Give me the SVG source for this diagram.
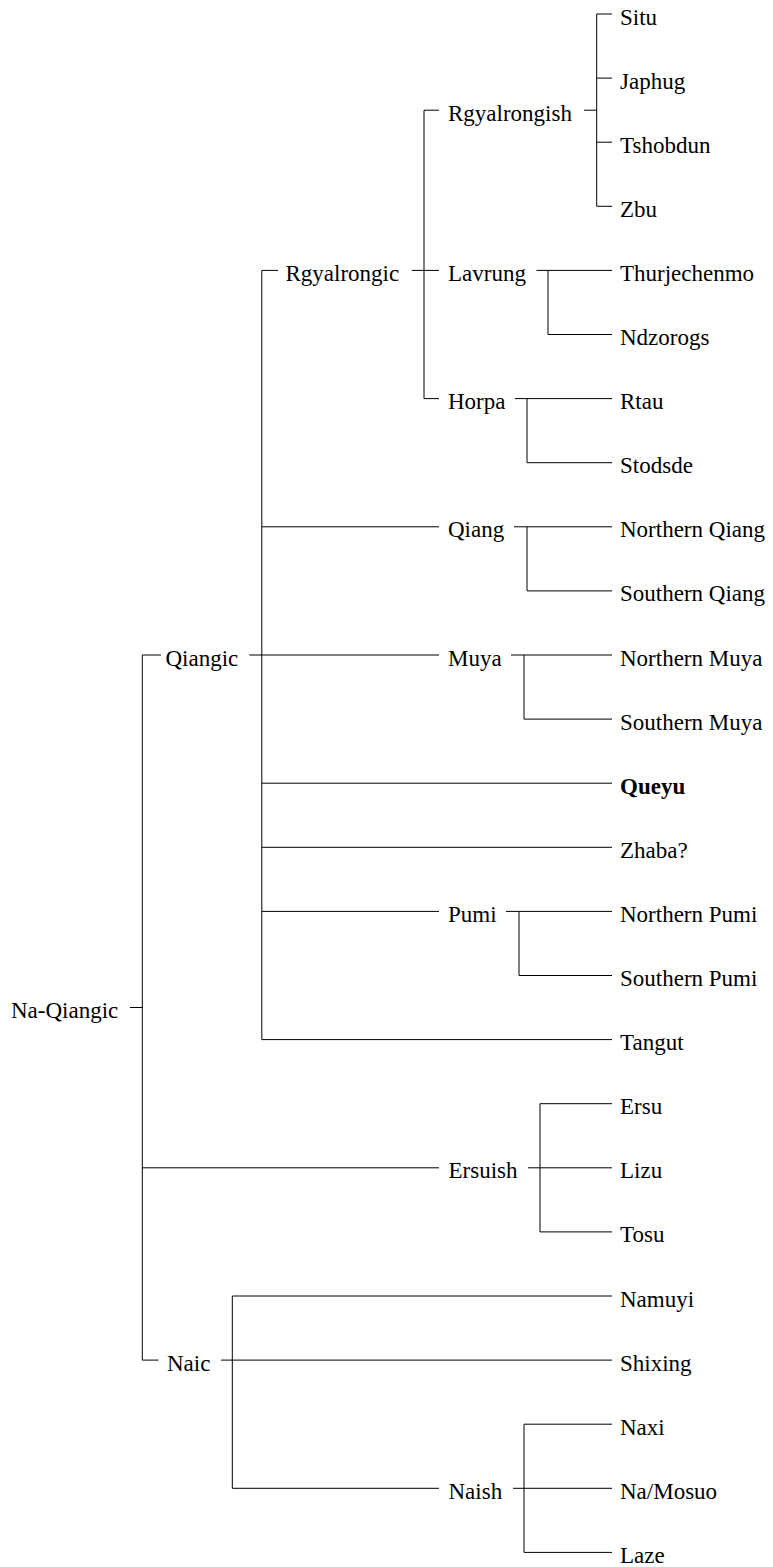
<svg xmlns="http://www.w3.org/2000/svg" width="773" height="1567" viewBox="0 0 773 1567">
  <style>
    text { font-family: 'Liberation Serif', 'DejaVu Serif', serif; font-size: 23px; fill: #000; }
    .bold { font-weight: bold; }
    .edge { fill: none; stroke: #000; stroke-width: 1; }
  </style>
  <rect width="773" height="1567" fill="#fff"/>

  <!-- tree branches: row pitch is 64.1px, first row at y=14 -->
  <g id="connectors" class="edge">
    <!-- Na-Qiangic root -->
    <path d="M130 1007.5 H142.3 M142.3 655 V1360.1"/>
    <!-- Qiangic -->
    <path d="M142.3 655 H161 M249.3 655 H439 M261.8 270.4 V1039.6"/>
    <!-- Rgyalrongic -->
    <path d="M261.8 270.4 H278 M411.7 270.4 H439 M424 110.2 V398.6"/>
    <!-- Rgyalrongish -->
    <path d="M424 110.2 H439 M584 110.2 H596.7 M596.7 14 V206.3"/>
    <path d="M596.7 14 H612 M596.7 78.1 H612 M596.7 142.2 H612 M596.7 206.3 H612"/>
    <!-- Lavrung -->
    <path d="M536.5 270.4 H612 M548 270.4 V334.5 H612"/>
    <!-- Horpa -->
    <path d="M424 398.6 H439 M515 398.6 H612 M527 398.6 V462.7 H612"/>
    <!-- Qiang -->
    <path d="M261.8 526.8 H439 M514 526.8 H612 M527 526.8 V590.9 H612"/>
    <!-- Muya -->
    <path d="M511 655 H612 M524 655 V719.1 H612"/>
    <!-- Queyu, Zhaba? -->
    <path d="M261.8 783.2 H612 M261.8 847.3 H612"/>
    <!-- Pumi -->
    <path d="M261.8 911.4 H439 M506 911.4 H612 M519 911.4 V975.5 H612"/>
    <!-- Tangut -->
    <path d="M261.8 1039.6 H612"/>
    <!-- Ersuish -->
    <path d="M142.3 1167.8 H439 M528 1167.8 H612 M540 1103.7 V1231.9 M540 1103.7 H612 M540 1231.9 H612"/>
    <!-- Naic -->
    <path d="M142.3 1360.1 H158.5 M221 1360.1 H612 M232.3 1296 V1488.3 M232.3 1296 H612 M232.3 1488.3 H439"/>
    <!-- Naish -->
    <path d="M513 1488.3 H612 M524 1424.2 V1552.4 M524 1424.2 H612 M524 1552.4 H612"/>
  </g>

  <!-- inner nodes -->
  <g id="na-qiangic"><text x="11" y="1018">Na-Qiangic</text></g>
  <g id="qiangic"><text x="165.5" y="665.5">Qiangic</text></g>
  <g id="rgyalrongic"><text x="285.5" y="281">Rgyalrongic</text></g>
  <g id="rgyalrongish"><text x="448" y="120.7">Rgyalrongish</text></g>
  <g id="lavrung"><text x="448" y="281">Lavrung</text></g>
  <g id="horpa"><text x="448" y="409.1">Horpa</text></g>
  <g id="qiang"><text x="448" y="537.3">Qiang</text></g>
  <g id="muya"><text x="448" y="665.5">Muya</text></g>
  <g id="pumi"><text x="448" y="921.9">Pumi</text></g>
  <g id="ersuish"><text x="448.5" y="1178.3">Ersuish</text></g>
  <g id="naic"><text x="167" y="1370.6">Naic</text></g>
  <g id="naish"><text x="448.5" y="1498.8">Naish</text></g>

  <!-- leaves -->
  <g id="situ"><text x="620" y="24.5">Situ</text></g>
  <g id="japhug"><text x="620" y="88.6">Japhug</text></g>
  <g id="tshobdun"><text x="620" y="152.7">Tshobdun</text></g>
  <g id="zbu"><text x="620" y="216.8">Zbu</text></g>
  <g id="thurjechenmo"><text x="620" y="281">Thurjechenmo</text></g>
  <g id="ndzorogs"><text x="620" y="345">Ndzorogs</text></g>
  <g id="rtau"><text x="620" y="409.1">Rtau</text></g>
  <g id="stodsde"><text x="620" y="473.2">Stodsde</text></g>
  <g id="northern-qiang"><text x="620" y="537.3">Northern Qiang</text></g>
  <g id="southern-qiang"><text x="620" y="601.4">Southern Qiang</text></g>
  <g id="northern-muya"><text x="620" y="665.5">Northern Muya</text></g>
  <g id="southern-muya"><text x="620" y="729.6">Southern Muya</text></g>
  <g id="queyu"><text class="bold" x="620" y="793.7">Queyu</text></g>
  <g id="zhaba"><text x="620" y="857.8">Zhaba?</text></g>
  <g id="northern-pumi"><text x="620" y="921.9">Northern Pumi</text></g>
  <g id="southern-pumi"><text x="620" y="986">Southern Pumi</text></g>
  <g id="tangut"><text x="620" y="1050.1">Tangut</text></g>
  <g id="ersu"><text x="620" y="1114.2">Ersu</text></g>
  <g id="lizu"><text x="620" y="1178.3">Lizu</text></g>
  <g id="tosu"><text x="620" y="1242.4">Tosu</text></g>
  <g id="namuyi"><text x="620" y="1306.5">Namuyi</text></g>
  <g id="shixing"><text x="620" y="1370.6">Shixing</text></g>
  <g id="naxi"><text x="620" y="1434.7">Naxi</text></g>
  <g id="na-mosuo"><text x="620" y="1498.8">Na/Mosuo</text></g>
  <g id="laze"><text x="620" y="1562.9">Laze</text></g>
</svg>
